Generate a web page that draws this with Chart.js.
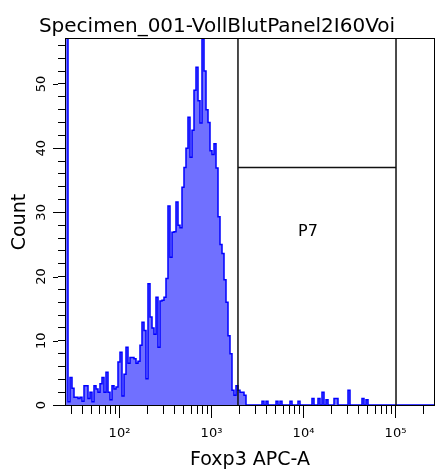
<!DOCTYPE html>
<html>
<head>
<meta charset="utf-8">
<script src="https://cdn.jsdelivr.net/npm/chart.js@4.4.1/dist/chart.umd.min.js"></script>
<style>
  html, body { margin: 0; padding: 0; background: #fff; }
  #wrap { width: 436px; height: 473px; }
</style>
</head>
<body>
<div id="wrap"><canvas id="histo" width="436" height="473"></canvas></div>
<script>
const plotTitle = 'Specimen_001-VollBlutPanel2I60Voi';
const xTitle = 'Foxp3 APC-A';
const yTitle = 'Count';

// log axis spans four decades
const xMin = 26.2144;
const xMax = 262144;
const xTicks = [30, 40, 50, 60, 70, 80, 90,
                100, 200, 300, 400, 500, 600, 700, 800, 900,
                1000, 2000, 3000, 4000, 5000, 6000, 7000, 8000, 9000,
                10000, 20000, 30000, 40000, 50000, 60000, 70000, 80000, 90000,
                100000, 200000];
const xMajorTicks = [100, 1000, 10000, 100000];
const xMajorLabels = ['10²', '10³', '10⁴', '10⁵'];

const yMax = 57;
const yLabelTicks = [0, 10, 20, 30, 40, 50];

// event counts per channel, channels evenly spaced over the log axis
const counts = [
  70, 0.5, 4.3, 2.6, 1.2, 1.2, 1.0, 1.2, 0.6, 3.0,
  3.0, 1.0, 2.0, 0.5, 3.0, 2.5, 2.0, 3.3, 4.3, 2.0,
  5.1, 2.0, 0.8, 3.0, 2.5, 2.8, 6.7, 8.2, 1.4, 4.8,
  9.0, 6.5, 7.4, 7.4, 7.2, 6.5, 6.8, 9.3, 12.9, 11.6,
  4.1, 18.9, 13.7, 12.0, 11.0, 16.8, 9.0, 16.2, 16.3, 16.8,
  19.7, 31.0, 23.0, 26.9, 27.0, 31.6, 28.0, 27.6, 33.9, 37.0,
  40.0, 44.8, 38.6, 42.8, 49.0, 52.6, 47.4, 43.9, 57.0, 52.0,
  46.0, 44.0, 39.6, 39.0, 40.7, 36.9, 29.3, 25.0, 23.6, 19.5,
  16.0, 10.8, 8.0, 2.3, 1.5, 3.0, 2.3, 2.0, 2.0, 1.5,
  0, 0, 0, 0, 0, 0, 0, 0, 0.6, 0,
  0.6, 0, 0, 0, 0, 0.6, 0, 0.6, 0, 0,
  0, 0, 0.6, 0, 0, 0, 0.6, 0, 0, 0,
  0, 0, 0, 1.0, 0, 0, 1.0, 0, 2.0, 0,
  0.8, 0, 0, 0, 1.0, 1.0, 0, 0, 0, 0,
  0, 2.3, 0, 0, 0, 0, 0, 0, 1.0, 0,
  0.8, 0, 0, 0, 0, 0, 0, 0, 0, 0,
  0, 0, 0, 0, 0, 0, 0, 0, 0, 0,
  0, 0, 0, 0, 0, 0, 0, 0, 0, 0,
  0, 0, 0, 0
];

// P7 interval gate
const gateName = 'P7';
const gateLow = 1940;
const gateHigh = 101300;
const gateLevel = 37;
const gateLabelX = 11200;
const gateLabelY = 27;

Chart.defaults.font.family = '"DejaVu Sans", sans-serif';
Chart.defaults.color = '#000';

const histData = counts.map((c, i) => ({ x: i, y: c }));
histData.push({ x: counts.length, y: counts[counts.length - 1] });

const gateData = [
  { x: gateLow, y: 0 }, { x: gateLow, y: yMax },
  { x: gateLow, y: gateLevel }, { x: gateHigh, y: gateLevel },
  { x: gateHigh, y: yMax }, { x: gateHigh, y: 0 }
];

const framePlugin = {
  id: 'frame',
  afterDraw(chart) {
    const { ctx, chartArea: a, scales } = chart;
    ctx.save();
    ctx.strokeStyle = '#000';
    ctx.lineWidth = 1;
    ctx.strokeRect(a.left - 0.5, a.top - 0.5, a.right - a.left + 1, a.bottom - a.top + 1);
    // labelled ticks are a bit longer
    ctx.beginPath();
    yLabelTicks.forEach(v => {
      const py = Math.round(scales.y.getPixelForValue(v)) + 0.5;
      ctx.moveTo(a.left - 8, py);
      ctx.lineTo(a.left - 13, py);
    });
    xMajorTicks.forEach(v => {
      const px = Math.round(scales.x.getPixelForValue(v)) + 0.5;
      ctx.moveTo(px, a.bottom + 9);
      ctx.lineTo(px, a.bottom + 13);
    });
    ctx.stroke();
    ctx.fillStyle = '#000';
    ctx.font = '16px "DejaVu Sans"';
    ctx.textAlign = 'center';
    ctx.textBaseline = 'middle';
    ctx.fillText(gateName, scales.x.getPixelForValue(gateLabelX), scales.y.getPixelForValue(gateLabelY));
    ctx.restore();
  }
};

new Chart(document.getElementById('histo'), {
  type: 'line',
  data: {
    datasets: [{
      label: 'gate',
      data: gateData,
      xAxisID: 'x',
      yAxisID: 'y',
      borderColor: '#111',
      borderWidth: 1.5,
      pointRadius: 0,
      fill: false,
      order: 0
    }, {
      label: 'Foxp3',
      data: histData,
      xAxisID: 'bin',
      yAxisID: 'y',
      stepped: true,
      fill: 'origin',
      backgroundColor: 'rgb(112,112,255)',
      borderColor: '#0000ff',
      borderWidth: 1.5,
      pointRadius: 0,
      order: 1
    }]
  },
  options: {
    responsive: false,
    animation: false,
    devicePixelRatio: 1,
    layout: { padding: { left: 0, right: 2, top: 0, bottom: 0 } },
    plugins: {
      legend: { display: false },
      tooltip: { enabled: false },
      title: {
        display: true,
        text: plotTitle,
        color: '#000',
        font: { size: 20, weight: 'normal', lineHeight: 1 },
        padding: { top: 17, bottom: 2 }
      }
    },
    scales: {
      bin: {
        type: 'linear',
        min: 0,
        max: counts.length,
        display: false
      },
      x: {
        type: 'logarithmic',
        position: 'bottom',
        min: xMin,
        max: xMax,
        border: { display: true, color: '#000', width: 1 },
        grid: { drawOnChartArea: false, tickLength: 9, tickColor: '#000', tickWidth: 1 },
        afterBuildTicks: s => { s.ticks = xTicks.map(v => ({ value: v })); },
        ticks: {
          autoSkip: false,
          maxRotation: 0,
          minRotation: 0,
          padding: 12,
          font: { size: 13 },
          callback: v => {
            const k = xMajorTicks.indexOf(v);
            return k >= 0 ? xMajorLabels[k] : '';
          }
        },
        title: { display: true, text: xTitle, font: { size: 19 }, padding: { top: 0, bottom: 2 } },
        afterFit: s => { s.height = 68; s.paddingLeft = 0; s.paddingRight = 0; }
      },
      y: {
        type: 'linear',
        min: 0,
        max: yMax,
        border: { display: true, color: '#000', width: 1 },
        grid: { drawOnChartArea: false, tickLength: 8, tickColor: '#000', tickWidth: 1 },
        ticks: {
          stepSize: 2,
          includeBounds: false,
          autoSkip: false,
          minRotation: 90,
          maxRotation: 90,
          crossAlign: 'center',
          padding: 8,
          font: { size: 13 },
          callback: v => yLabelTicks.includes(v) ? String(v) : ''
        },
        title: { display: true, text: yTitle, font: { size: 19 }, padding: { top: 9, bottom: 0 } },
        afterFit: s => { s.width = 66; s.paddingTop = 0; s.paddingBottom = 0; }
      }
    }
  },
  plugins: [framePlugin]
});
</script>
</body>
</html>
